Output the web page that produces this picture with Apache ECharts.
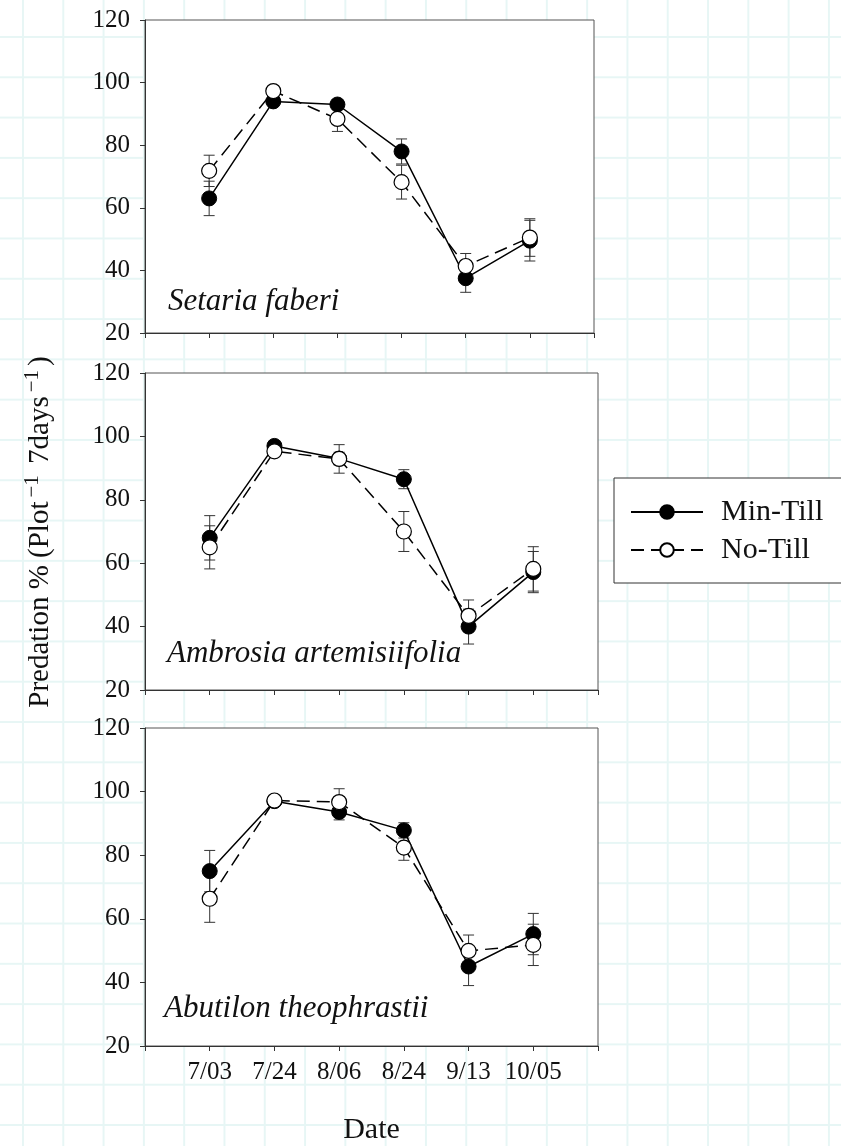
<!DOCTYPE html>
<html>
<head>
<meta charset="utf-8">
<script src="https://cdn.jsdelivr.net/npm/echarts@6/dist/echarts.min.js"></script>
<style>
html, body { margin: 0; padding: 0; width: 841px; height: 1146px; overflow: hidden; }
body {
  background-color: #ffffff;
  background-image:
    linear-gradient(to right, #e7f6f5 2px, transparent 2px),
    linear-gradient(to bottom, #e7f6f5 2px, transparent 2px);
  background-size: 40.3px 40.3px;
  background-position: 22px 36px;
}
#chart { width: 841px; height: 1146px; }
</style>
</head>
<body>
<div id="chart"></div>
<script>
// ---- data ----
const dates = ['7/03', '7/24', '8/06', '8/24', '9/13', '10/05'];
const speciesNames = ['Setaria faberi', 'Ambrosia artemisiifolia', 'Abutilon theophrastii'];
const seriesNames = ['Min-Till', 'No-Till'];
const yMin = 20, yMax = 120, yStep = 20;

const setariaMin = [63, 94, 93, 78, 37.5, 49.5];
const setariaMinErr = [5.5, 1.5, 1.5, 4, 4.5, 6.5];
const setariaNo = [71.8, 97.3, 88.4, 68.2, 41.4, 50.5];
const setariaNoErr = [5, 1.5, 4, 5.4, 4, 6];

const ambrosiaMin = [68, 97, 93, 86.5, 40, 57.2];
const ambrosiaMinErr = [7, 1.5, 2, 3, 5.5, 6.5];
const ambrosiaNo = [65, 95.3, 92.9, 70, 43.4, 58.2];
const ambrosiaNoErr = [6.8, 1.5, 4.5, 6.3, 5, 7];

const abutilonMin = [75, 97, 93.6, 87.8, 45, 55.2];
const abutilonMinErr = [6.5, 1, 2.5, 2.4, 6, 6.5];
const abutilonNo = [66.3, 97.2, 96.7, 82.4, 49.9, 51.8];
const abutilonNoErr = [7.4, 1, 4.2, 4, 5, 6.5];

const panels = [
  { min: setariaMin, minErr: setariaMinErr, no: setariaNo, noErr: setariaNoErr },
  { min: ambrosiaMin, minErr: ambrosiaMinErr, no: ambrosiaNo, noErr: ambrosiaNoErr },
  { min: abutilonMin, minErr: abutilonMinErr, no: abutilonNo, noErr: abutilonNoErr }
];

// ---- layout / style ----
const FONT = '"Liberation Serif", "Times New Roman", serif';
const grids = [
  { left: 145, top: 20, width: 449, height: 313 },
  { left: 145, top: 373, width: 453, height: 317 },
  { left: 145, top: 728, width: 453, height: 318 }
];
const speciesPos = [[168, 302], [167, 654], [164, 1009]];
const axisColor = '#333';

const chart = echarts.init(document.getElementById('chart'), null, { renderer: 'canvas' });

const xAxes = [], yAxes = [], series = [];
grids.forEach((g, i) => {
  xAxes.push({
    type: 'value', gridIndex: i, min: 0, max: dates.length + 1, interval: 1,
    axisLine: { show: true, onZero: false, lineStyle: { color: axisColor, width: 1 } },
    axisTick: { show: true, inside: false, length: 5, lineStyle: { color: axisColor } },
    splitLine: { show: false },
    axisLabel: {
      show: i === 2, margin: 14, fontSize: 25, fontFamily: FONT, color: '#111',
      formatter: v => dates[v - 1] || ''
    },
    name: i === 2 ? 'Date' : '',
    nameLocation: 'middle', nameGap: 69,
    nameTextStyle: { fontSize: 30, fontFamily: FONT, color: '#111' }
  });
  yAxes.push({
    type: 'value', gridIndex: i, min: yMin, max: yMax, interval: yStep,
    axisLine: { show: true, lineStyle: { color: axisColor, width: 1 } },
    axisTick: { show: true, inside: false, length: 5, lineStyle: { color: axisColor } },
    splitLine: { show: false },
    axisLabel: { margin: 15, fontSize: 25, fontFamily: FONT, color: '#111' }
  });
});

function errSeries(i, vals, errs) {
  return {
    type: 'custom', xAxisIndex: i, yAxisIndex: i, z: 2, silent: true,
    data: vals.map((v, k) => [k + 1, v, errs[k]]),
    encode: { x: 0, y: 1 },
    renderItem: function (params, api) {
      const x = api.value(0), v = api.value(1), e = api.value(2);
      const t = api.coord([x, v + e]), b = api.coord([x, v - e]);
      const w = 5.5;
      const st = { stroke: '#333', lineWidth: 1 };
      return {
        type: 'group',
        children: [
          { type: 'line', shape: { x1: t[0], y1: t[1], x2: b[0], y2: b[1] }, style: st },
          { type: 'line', shape: { x1: t[0] - w, y1: t[1], x2: t[0] + w, y2: t[1] }, style: st },
          { type: 'line', shape: { x1: b[0] - w, y1: b[1], x2: b[0] + w, y2: b[1] }, style: st }
        ]
      };
    }
  };
}

panels.forEach((p, i) => {
  series.push(errSeries(i, p.min, p.minErr));
  series.push(errSeries(i, p.no, p.noErr));
  series.push({
    name: seriesNames[0], type: 'line', xAxisIndex: i, yAxisIndex: i, z: 3,
    data: p.min.map((v, k) => [k + 1, v]),
    symbol: 'circle', symbolSize: 15,
    lineStyle: { color: '#000', width: 1.5, type: 'solid' },
    itemStyle: { color: '#000', borderColor: '#000', borderWidth: 1 }
  });
  series.push({
    name: seriesNames[1], type: 'line', xAxisIndex: i, yAxisIndex: i, z: 4,
    data: p.no.map((v, k) => [k + 1, v]),
    symbol: 'circle', symbolSize: 15,
    lineStyle: { color: '#000', width: 1.5, type: [13, 7] },
    itemStyle: { color: '#fff', borderColor: '#000', borderWidth: 1.2 }
  });
});

const graphics = speciesNames.map((s, i) => ({
  type: 'text', x: speciesPos[i][0], y: speciesPos[i][1], z: 10,
  style: {
    text: s, fill: '#111', align: 'left', verticalAlign: 'middle',
    font: 'italic 31px ' + FONT
  }
}));
graphics.push({
  type: 'text', x: 40, y: 532, rotation: Math.PI / 2, z: 10,
  style: {
    text: '{m|Predation % (Plot}{s|\u22121}{m| 7days}{s|\u22121}{m|)}',
    align: 'center', verticalAlign: 'middle', fill: '#111',
    rich: {
      m: { fontSize: 29, fontFamily: FONT, fill: '#111', lineHeight: 36 },
      s: { fontSize: 21, fontFamily: FONT, fill: '#111', lineHeight: 16, verticalAlign: 'top', padding: [0, 4, 0, 4] }
    }
  }
});

chart.setOption({
  backgroundColor: 'transparent',
  animation: false,
  grid: grids.map(g => Object.assign({ show: true, backgroundColor: '#fff', borderColor: '#555', borderWidth: 1 }, g)),
  xAxis: xAxes,
  yAxis: yAxes,
  legend: {
    data: seriesNames, orient: 'vertical', left: 614, top: 478,
    itemWidth: 72, itemHeight: 17, itemGap: 8,
    padding: [19, 40, 18, 16],
    borderColor: '#333', borderWidth: 1, backgroundColor: '#fff',
    textStyle: { fontSize: 30, fontFamily: FONT, color: '#111', lineHeight: 30, padding: [0, 0, 0, 13] }
  },
  graphic: graphics,
  series: series
});
</script>
</body>
</html>
